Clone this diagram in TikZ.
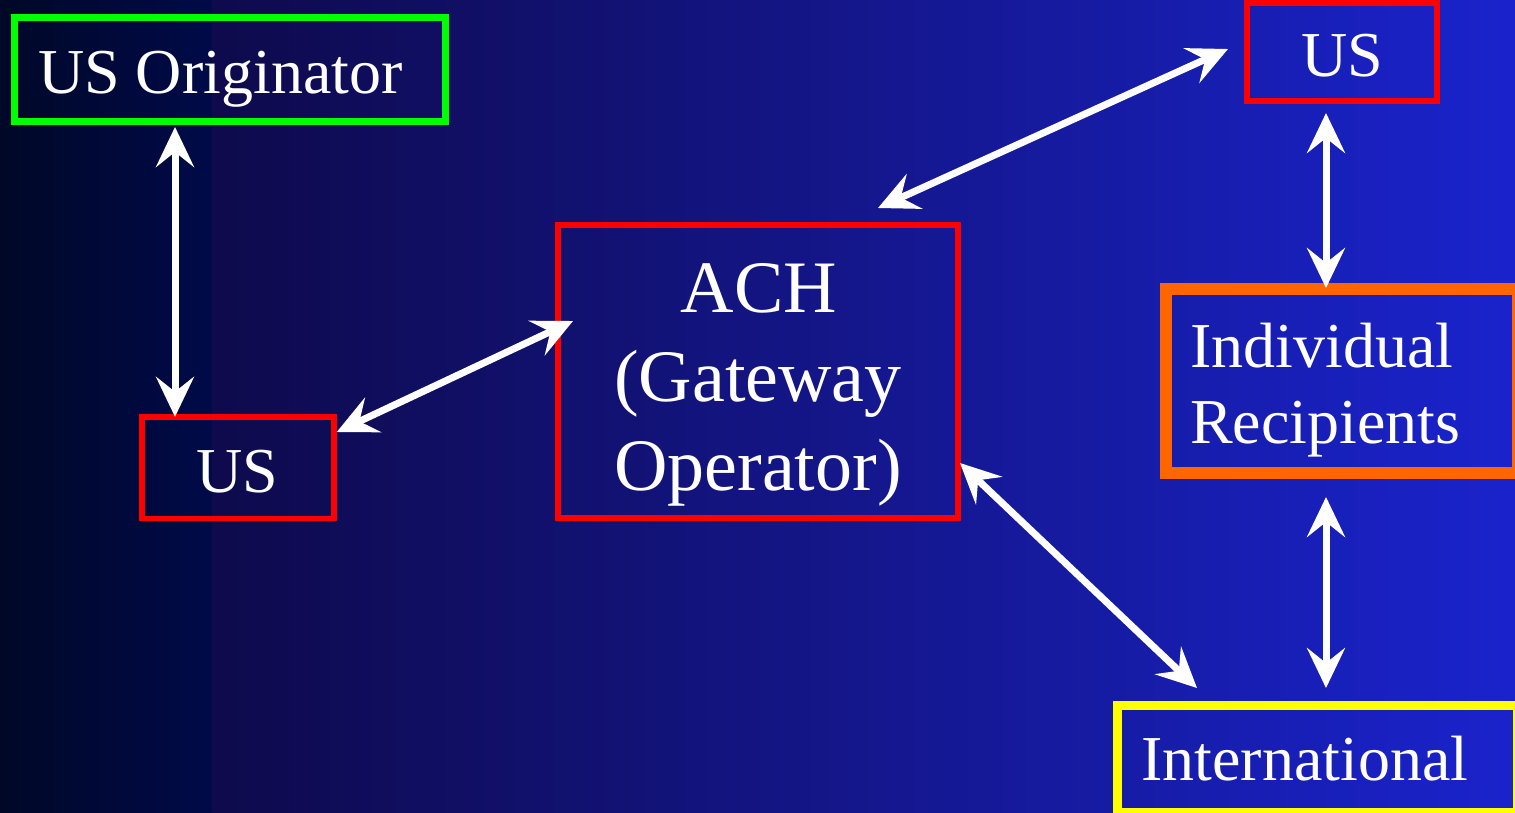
\documentclass[tikz,border=0pt]{standalone}
\usepackage{fontspec}
\setmainfont{Liberation Serif}
\usetikzlibrary{arrows.meta,calc}
\definecolor{bgA}{HTML}{000828}
\definecolor{bgB}{HTML}{000A48}
\definecolor{bgC}{HTML}{0E0A4C}
\definecolor{bgD}{HTML}{1A23CC}
\definecolor{boxgreen}{HTML}{00FF00}
\definecolor{boxred}{HTML}{FF0000}
\definecolor{boxorange}{HTML}{FF6600}
\definecolor{boxyellow}{HTML}{FFFF00}
\begin{document}
\begin{tikzpicture}[x=1pt,y=-1pt,
  box/.style={draw, rectangle, inner sep=0pt},
  lbl/.style={text=white, inner sep=0pt, font=\fontsize{64}{77}\selectfont},
  big/.style={text=white, inner sep=0pt, font=\fontsize{74}{89}\selectfont},
  tip/.style={Stealth[length=40pt,width=38pt,inset=15pt]},
  link/.style={white, line width=7pt, {Stealth[length=40pt,width=38pt,inset=15pt]}-{Stealth[length=40pt,width=38pt,inset=15pt]}}]
% page and background gradient
\useasboundingbox (0,0) rectangle (1515,812);
\shade[left color=bgA, right color=bgB] (0,0) rectangle (213,812);
\shade[left color=bgC, right color=bgD] (212.5,0) rectangle (1515,812);

% boxes
\node[box, draw=boxgreen, line width=7pt, minimum width=431pt, minimum height=104pt] (orig) at (229.5,69) {};
\node[box, draw=boxred, line width=5.5pt, minimum width=192pt, minimum height=101.5pt] (usL) at (238,467.8) {};
\node[box, draw=boxred, line width=5.5pt, minimum width=400pt, minimum height=293pt] (ach) at (758,371.5) {};
\node[box, draw=boxred, line width=6.5pt, minimum width=190pt, minimum height=98pt] (usR) at (1342,52) {};
\node[box, draw=boxorange, line width=11.5pt, minimum width=352pt, minimum height=184pt] (indiv) at (1342,381) {};
\node[box, draw=boxyellow, line width=9pt, minimum width=400pt, minimum height=107pt] (intl) at (1317.75,758.5) {};

% labels
\node[lbl, anchor=base west] (origtxt) at (38,93) {US Originator};
\node[lbl, anchor=base] (usLtxt) at (237,492) {US};
\node[big, anchor=base] (achA) at (759,312) {ACH};
\node[big, anchor=base] (achB) at (758,401) {(Gateway};
\node[big, anchor=base] (achC) at (758,490) {Operator)};
\node[lbl, anchor=base] (usRtxt) at (1342,76) {US};
\node[lbl, anchor=base west] (indivA) at (1190,367) {Individual};
\node[lbl, anchor=base west] (indivB) at (1190,443) {Recipients};
\node[lbl, anchor=base west] (intltxt) at (1141,780) {International};

% connectors
\draw[link] ($(orig.south)+(-54.5,2.5)$) -- ($(usL.north)+(-63,2.5)$);
\draw[link] ($(usL.east)+(0,-35.8)$) -- ($(ach.west)+(17.75,-50.5)$);
\draw[link] ($(ach.north)+(120,-14.25)$) -- ($(usR.west)+(-15.75,-3)$);
\draw[link] ($(usR.south)+(-16,8.75)$) -- ($(indiv.north)+(-16,4.75)$);
\draw[link] ($(ach.east)+(-0.75,91.5)$) -- ($(intl.north)+(-120.75,-12.5)$);
\draw[link] ($(indiv.south)+(-16,18.25)$) -- ($(intl.north)+(8.25,-12.5)$);
\end{tikzpicture}
\end{document}
